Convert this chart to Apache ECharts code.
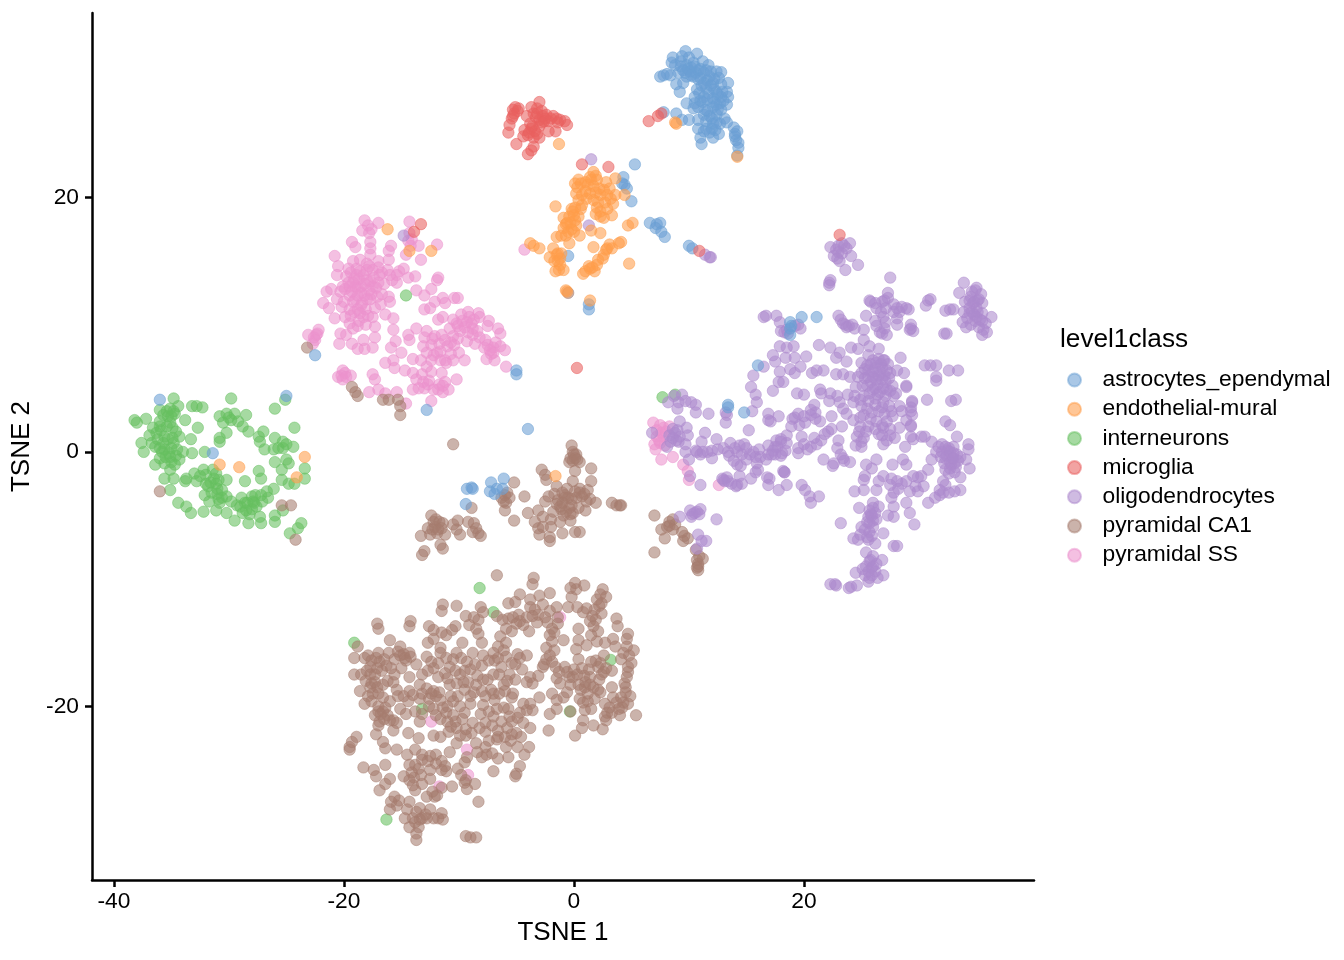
<!DOCTYPE html>
<html><head><meta charset="utf-8">
<style>html,body{margin:0;padding:0;background:#fff}#c{width:1344px;height:960px}</style>
<script src="https://cdn.jsdelivr.net/npm/echarts@6/dist/echarts.min.js"></script>
</head><body><div id="c"></div>
<script>
const classLabels=['astrocytes_ependymal','endothelial-mural','interneurons','microglia','oligodendrocytes','pyramidal CA1','pyramidal SS'];
const xTicks=[-40,-20,0,20];
const yTicks=[-20,0,20];
const astrocytes=[[9.7,31.5],[10.7,31.3],[8.6,31],[9.4,31.1],[8.5,30.6],[8.8,30.4],[9.8,30.4],[10.4,30.6],[11.2,30.7],[11.7,30.4],[9.5,30],[10.1,29.9],[10.8,30],[11.5,30],[12.4,29.9],[12.8,29.85],[7.5,29.5],[7.8,29.6],[8.1,29.7],[8.4,29.6],[9.1,29.8],[9.8,29.5],[10.4,29.5],[11,29.4],[11.8,29.5],[12.6,29.4],[13.4,29],[8.9,28.9],[9.5,29],[11.3,29],[12.1,29],[12.8,28.9],[9.2,28.3],[10.7,28.5],[11.5,28.6],[12.4,28.3],[13.3,28.3],[10.5,27.9],[11.3,27.9],[12.1,27.8],[12.8,27.9],[13.4,27.9],[9.8,27.4],[10.5,27.4],[11.2,27.5],[12.7,27.4],[13.3,27.3],[10.4,27],[12.1,27.1],[12.8,26.9],[8.9,26.6],[7.8,26.7],[11.3,26.5],[11.8,26.4],[12.4,26.5],[13.1,26.2],[9.4,26.1],[10,26.1],[10.8,26.1],[11.5,26],[12.1,25.8],[12.7,25.8],[10.8,25.4],[11.5,25.4],[12.3,25.3],[12.1,24.7],[11,24.7],[11.1,24.2],[13.9,25.5],[14.2,25.2],[14,24.8],[14.3,24.3],[14.3,23.9],[14.2,23.3],[12.6,25],[9.9,30.1],[10.2,30.2],[10.6,29.8],[11.6,29.2],[11.9,28.8],[12.2,28.5],[12.5,28.1],[11.6,26.8],[12,26.2],[12.2,27.5],[5.3,22.6],[4.3,21.6],[4.2,21.1],[4.6,20.7],[5,19.7],[4.4,21],[6.6,18],[7.2,17.9],[7.5,18],[7.1,17.6],[7.6,17.3],[7.9,16.9],[10,16.2],[10.3,16],[-0.5,15.4],[1.3,11.2],[1.3,11.6],[19.8,10.6],[21.1,10.6],[18.8,10.2],[18.8,9.7],[18.8,9.2],[18.9,9.9],[16,6.8],[13.4,3.7],[13.4,3.5],[14.8,3.1],[-36,4.1],[-25,4.4],[-31.4,-0.1],[-22.5,7.6],[-5,6.4],[-5,6.1],[-12.8,3.3],[-4,1.8],[-9.3,-2.9],[-8.9,-2.8],[-8.8,-2.9],[-9.4,-4.1],[-7.2,-2.4],[-6.1,-2.1],[-7.3,-3.1],[-6.7,-2.9],[-6.9,-3.3],[-6.2,-2.9],
[9.3,30.7],[10,31],[10.5,30.3],[11,30.1],[9.3,30.3],[9.7,29.8],[10.2,29.6],[10.8,29.3],[11.3,29.8],[11.9,29.9],[12.2,29.3],[11.1,28.8],[10.9,28.2],[11.7,28.2],[11,27.6],[11.6,27.7],[12.4,27.3],[13,27.6],[12.9,28.3],[10.8,27.1],[11.4,26.9],[12.5,26.9],[12,25.4],[11.8,25.1],[11.3,25.2],[12.4,25.9],[13.3,25.9],[14,25],[14.1,24.5]];
const endothelial=[[1.7,22],[1.4,21.6],[0.4,21.4],[0.1,21.1],[1,21.2],[2,21.4],[2.8,21.2],[3.6,21.5],[1.7,20.9],[3.1,20.7],[0.2,20.3],[1.4,20.3],[2.3,20.2],[3.6,20.2],[4.4,20.2],[0.4,19.8],[1.7,19.8],[2.7,19.6],[3.4,19.5],[-1.6,19.3],[-0.2,19.1],[0.7,19.4],[2.3,18.9],[0,18.6],[-0.9,18.4],[2.3,18.5],[3.3,18.6],[2.6,18.4],[-0.3,18],[0.2,17.8],[-0.9,17.6],[-0.5,17.3],[1.5,17.4],[2.3,17.2],[0.5,17],[-1.5,16.9],[-1.1,17],[4.7,17.8],[5.1,18],[-0.4,16.4],[-3.8,16.4],[-3.5,16.2],[-3,16],[1.7,16.1],[4.1,16.5],[3.9,16.4],[3.1,16.3],[2.8,15.9],[2.6,15.5],[-1.8,16],[-1.4,15.6],[-2.1,15.3],[-1.2,15.2],[2.1,15.1],[4.8,14.8],[2,14.7],[1.4,14.4],[1,14.2],[0.8,14],[1.8,14.2],[-1.6,14.2],[-0.9,14.3],[-1.2,14.7],[-0.7,12.7],[-0.6,12.6],[1.4,11.9],[2.6,20.6],[1.5,21.4],[1,20.5],[2,19.2],[-0.4,18.5],[-0.6,18],[0.4,18.5],[-1.4,15],[8.8,25.9],[8.9,25.8],[14.2,23.2],[-1.3,24.2],[-16.2,17.5],[-14.3,15.8],[-12.4,15.8],[-30.8,-1],[-29.1,-1.2],[-23.4,-0.4],[-24.1,-2],[-1.6,-1.9],
[0.6,21.1],[1.9,21.7],[1.2,21],[2.2,20.7],[0.3,20.8],[0.7,20.2],[1.1,19.9],[1.9,20.4],[2.9,20.2],[3.2,19.9],[0.6,19.1],[0.1,19.2],[-0.1,18.9],[2.1,19.6],[2.9,19.1],[1.9,18.7],[-0.7,17.9],[-0.2,17.5],[-0.7,17],[0,17.3],[0.1,18.2],[2.9,16],[3.3,16],[2.5,15.2],[1.6,14.5],[1.3,14.6],[-1.5,15.5],[-1.3,14.3],[-1.7,15],[-1.1,15.6]];
const interneurons=[[-34.8,4.2],[-38.2,2.5],[-38,2.3],[-37.2,2.6],[-36,3.3],[-35.1,3.4],[-34.4,3.6],[-34.7,3],[-35.3,2.8],[-33.8,2.5],[-36,2.4],[-35.1,2.3],[-36.6,1.9],[-35.9,1.7],[-34.6,1.6],[-32.7,1.9],[-36.9,1.3],[-34.3,1.2],[-33.3,1],[-37.6,0.7],[-36.7,0.7],[-35.7,0.7],[-34.8,0.7],[-37.4,0],[-35.6,0.2],[-33.2,-0.1],[-34,0],[-36,-0.5],[-35.1,-0.4],[-34.3,-0.6],[-36.4,-1],[-35.6,-0.9],[-35.1,-1.4],[-32.1,0],[-33.2,3.6],[-32.8,3.6],[-32.3,3.5],[-29.8,4.2],[-30.8,2.8],[-30.2,3],[-29.5,3],[-28.5,2.9],[-30.5,2.3],[-29.2,2.4],[-28.8,2],[-28.3,1.6],[-27,1.6],[-30.2,1.5],[-30.8,1.1],[-30.8,0.8],[-27.4,1.2],[-27.3,0.8],[-26,3.4],[-25.1,4.1],[-24.3,1.9],[-26,1.1],[-25.3,0.8],[-26.9,0.2],[-26.1,0.2],[-25.3,0.3],[-24.4,0.4],[-26,-0.8],[-25,-0.6],[-25.4,-1.4],[-23.4,-1.3],[-23.4,-2.1],[-27.4,-1.5],[-27.2,-2.1],[-25.4,-2.2],[-24.8,-2.5],[-24.3,-2.5],[-28.6,-2.3],[-35.6,-2.1],[-34.8,-2.1],[-35.1,-3],[-33.7,-2.1],[-33,-1.7],[-32.2,-1.4],[-32,-1.8],[-32.8,-2.3],[-33.8,-2.3],[-31.8,-2.7],[-31.1,-2.5],[-30.2,-2.2],[-32.1,-3.4],[-31,-3.3],[-30.2,-3.5],[-34.4,-4],[-33.7,-4.3],[-33.3,-4.8],[-32.2,-4.7],[-31.1,-4.6],[-30.2,-4.8],[-29.5,-5.4],[-31.7,-3.9],[-29.3,-4.2],[-28.6,-4],[-28,-3.5],[-27.2,-3.4],[-26.1,-2.9],[-26.6,-3.6],[-28.5,-4.6],[-27.6,-4.3],[-28.3,-5.6],[-27.2,-5.6],[-26,-5],[-26,-5.5],[-25.3,-4.6],[-23.7,-5.6],[-24,-6],[-24.7,-6.4],[-27.3,-5.1],[-29,-4.3],[-27.9,-3.9],[-30.8,-4],[-30.6,-3.6],[-31.1,-1.7],[-35.3,1],[-35,0.3],[-34.6,-0.3],[-35.8,0],[-36.2,1],[-36,2],[-35,2.8],[-34.8,3.2],[-36,0.3],[-35,-0.8],[-28,-4.5],[-28.4,-4],[-27.8,-4],[-31,-2.9],[-31.5,-3.2],[-30.6,-3],[-32.5,-1.9],[-14.6,12.3],[7.7,4.3],[8.8,4.5],[-19.1,-15],[-8.2,-10.7],[-7,-12.6],[3.2,-16.35],[-13.2,-20.2],[-0.35,-20.4],[-16.3,-28.9],
[-35.7,2.9],[-35.4,2],[-34.9,1.9],[-35.4,3.2],[-36.3,1.5],[-35.6,1.2],[-34.9,1.1],[-36.4,0.4],[-35.2,-0.1],[-34.5,0.2],[-35.5,-0.4],[-34.7,-1],[-30,2.7],[-29.8,2.5],[-25.7,0.3],[-25,0.6],[-31.3,-2.1],[-30.9,-2.2],[-31.6,-2.4],[-30.9,-3.7],[-29.8,-3.9],[-28.9,-3.6],[-28.2,-4.9],[-27.7,-3.4],[-27.1,-3.9],[-26.7,-3.1],[-28.8,-4.8],[-31.4,-1.4],[-32,-2.5],[-24.8,-0.9]];
const microglia=[[-5.1,27.1],[-5.3,26.9],[-4.8,27],[-5.4,26.2],[-5.6,25.7],[-5.7,25.1],[-3.7,27.1],[-3,27.5],[-3.2,27],[-2.8,26.8],[-2.4,26.5],[-1.8,26.4],[-1.2,26.1],[-0.6,25.7],[-0.8,26],[-4.1,26.4],[-3.8,25.8],[-3,26.1],[-2.2,26],[-4.3,25.3],[-3.7,25.4],[-3,25.6],[-1.6,25.2],[-2.2,25.2],[-4.4,24.8],[-3.5,24.7],[-3,24.7],[-5,24.2],[-3.5,24],[-3.7,23.7],[-4,23.4],[-2.5,26.2],[-3.5,26.6],[-3.4,25.2],[-3.9,25.1],[-2.7,26.4],[-1.5,26.2],[6.5,26],[7.3,26.4],[7.6,26.6],[0.7,22.6],[3,22.4],[10.9,15.8],[23.1,17.06],[-13.3,17.9],[-13.9,17.3],[0.26,6.6],
[-5.2,26.6],[-4.9,26.8],[-5.3,26.4],[-3.3,26.3],[-2.6,26],[-2,26.2],[-1.4,25.9],[-3.2,26.6],[-3.6,25.6],[-3.2,25],[-4,24.9],[-2.8,25.9]];
const oligodendrocytes=[[22.3,16.1],[24,16.4],[22.8,15.9],[23.3,15.6],[23.7,16],[22.6,15.4],[24.1,15.4],[23.1,15],[24.7,14.7],[23.6,14.3],[23.3,16.4],[23,15.7],[22.9,15.2],[22.2,13.3],[22.3,13.5],[22.2,13.1],[27.5,13.7],[33.9,13.3],[33.5,12.5],[34.9,12.7],[35,12.9],[34.5,12.2],[35.2,12],[34.7,11.7],[34,11.8],[35.5,11.7],[34.4,11.3],[35,11.3],[33.9,11],[34.8,10.8],[35.5,10.9],[34.2,10.5],[34.9,10.3],[35.8,10.1],[36.3,10.6],[33.8,10.2],[35.2,9.8],[35.6,9.6],[35.9,9.4],[35.5,9.2],[34.5,10],[34.1,9.8],[35.1,11],[34.6,11],[35.4,12.4],[32.7,11.2],[32.3,11.1],[33,11.2],[32.2,9.3],[32.4,9.3],[31,12],[30.6,11.5],[30.8,11.9],[27.3,12.5],[27.3,12.1],[27,11.9],[26.8,11.8],[26.2,11.7],[25.8,11.8],[25.7,11.9],[26.3,11.3],[27.8,11.6],[28.1,11.3],[28.5,11.4],[28.9,11.3],[29.1,11.2],[27.8,11],[28.3,11],[25.4,10.7],[26.2,10.3],[26.9,10.6],[27.1,10.2],[28.1,10.5],[28.1,10],[26.3,9.9],[27,9.7],[26.6,9.4],[26.8,9.3],[27.2,9.2],[29.3,10],[29.2,9.6],[29.5,9.5],[29.3,9.7],[27.1,11.3],[26.7,11],[23,10.7],[23.2,10.4],[23.4,10.1],[23.6,10],[23.9,9.9],[24.2,10],[24.4,9.7],[25.2,9.6],[23.7,9.8],[16.5,10.6],[16.7,10.7],[17.6,10.7],[17.9,10.2],[18.5,9.6],[18,9.5],[19.2,9.9],[19.5,10],[19.7,9.7],[18.3,9.4],[17.9,8.3],[19.1,8.3],[18.5,8.2],[17.3,7.6],[17.5,7.1],[18.4,7.4],[19.2,7.4],[20.2,7.5],[16.5,6.7],[15.6,6],[15.4,5.1],[15.8,4.5],[15.9,3.9],[15.5,3.2],[17.9,6.3],[18.8,6.5],[19.7,6.7],[19.2,6.2],[18.2,5.5],[17.8,5.5],[17.3,4.8],[20.7,6.2],[21.1,6.4],[21.7,6.4],[21.3,8.4],[22.3,8.2],[23.1,7.8],[22.8,7.4],[23.7,7.1],[22.8,6.1],[23.4,6.1],[24,5.9],[24.1,8.2],[24.7,8.1],[25.2,8.8],[25.7,8.3],[26.5,8.1],[25.6,7.6],[28.4,7.4],[26.9,7.2],[25,7],[25.5,6.8],[26,7.2],[26.5,7.3],[27,7.2],[27.3,6.9],[26.2,6.6],[26.8,6.6],[25.6,6.4],[25,6.2],[24.7,5.9],[25.3,5.8],[26,5.9],[26.5,6],[27,6],[27.5,6.2],[28.1,6.4],[28.7,6.2],[25.8,5.5],[26.4,5.3],[27.1,5.5],[27.7,5.2],[28.9,5.2],[24.5,5.1],[25.1,5.2],[26,4.9],[26.6,4.7],[27.2,4.9],[27.8,4.4],[28,4.6],[25.2,4.4],[24.4,4.4],[23.8,4.5],[24.9,4.1],[26.2,4.2],[26.9,3.9],[27.4,3.6],[28.3,3.6],[25.5,3.4],[26.5,3.2],[27,3],[28.5,3.2],[29.4,3.9],[29.3,3.5],[25.2,2.9],[25.8,2.6],[26.3,2.4],[27.7,2.8],[28.9,2.5],[29.4,2.9],[24.3,2.5],[24.9,2],[25.6,2],[26.9,1.9],[27.5,1.8],[28.3,1.9],[29.3,2.1],[29.3,1.2],[24.6,1.2],[25,0.8],[25.2,1.1],[26.8,1.3],[27.2,0.9],[27.9,1.1],[28.8,0.4],[25,0.4],[26.9,0.6],[24.5,0.5],[19.4,4.6],[20,4.5],[21.4,4.9],[21.5,4.6],[22.3,4.6],[22.9,4.4],[22.2,4],[23.1,3.9],[24.3,3.9],[20.9,3.7],[20.6,3.3],[21,3.1],[20.6,2.9],[19.5,3],[19,2.6],[18.9,2],[19.6,2.1],[20.1,2.3],[21.4,2.4],[22.4,2.8],[23.4,3.4],[23.7,3],[23.3,2],[21.8,1.4],[22.4,1.8],[22.1,1.6],[20.9,1.1],[21.5,0.9],[21.1,0.6],[19.8,1.2],[20,0.6],[19.5,0.3],[20.6,0.4],[18.5,1.3],[18,0.8],[17.7,0.4],[18.4,0.1],[17.5,-0.2],[18,-0.3],[19.5,-0.1],[20.3,0.2],[22.9,0.3],[23,0.9],[23.2,-0.2],[21.7,-0.6],[22.6,-0.9],[22.5,-1.1],[23.5,-0.7],[24,-0.8],[23.4,-0.5],[9.7,0],[10.6,0.1],[11,-0.2],[11.6,0],[12,0.1],[12.5,0.2],[13,0.3],[13.6,0.7],[13.5,-0.3],[13.9,-0.7],[14.2,0],[14.4,0.5],[14.8,0.6],[14.2,-1],[14.5,-1.1],[15,0.3],[15.3,-0.2],[15.8,-0.4],[15.9,-0.9],[16.1,0.2],[16.2,-0.4],[16.7,-0.6],[16.9,-0.2],[17.2,-0.2],[16.9,0.5],[17.5,0.4],[17.6,0.9],[18,1],[18.5,0.7],[18.1,-0.1],[16,-1.4],[15.8,-1.6],[16.8,-2],[17,-2.1],[18.2,-1.5],[18.3,-1.6],[14.6,-2.5],[14.4,-1.9],[13.3,-2],[13,-2.2],[13.7,-2.5],[14.2,-2.6],[12.9,-2.1],[6.8,1.5],[8.3,1.3],[8.8,1.5],[9.2,1.2],[9.1,0.8],[8.6,1.1],[8.1,0.4],[9.7,0.6],[9.8,1.9],[9.2,2.4],[9.9,1.3],[10,-0.6],[10.1,-1.9],[11,-2.6],[11.4,1.5],[11.1,0.8],[12.4,1],[10.7,0],[11.2,0],[12,-0.5],[15.2,1.7],[8.2,3.9],[8.7,4.4],[9.4,4.5],[9.1,3.9],[9.7,4],[10.2,3.9],[10.6,3.7],[10.6,3.1],[9,3.4],[11.7,3],[13.3,2.9],[13.2,3.1],[13.2,2.3],[16.9,3],[16.9,2.5],[17.1,2.4],[17.8,2.8],[31.1,0.8],[31.7,0.4],[31.5,0],[32.6,0.3],[33,0.4],[34.3,0.6],[34.3,0.2],[33.3,1.2],[33,-0.1],[33.6,-0.4],[32.3,-0.5],[32.7,-0.8],[33.1,-0.9],[34.4,-1.3],[34.1,-0.6],[32.3,-1.4],[32.7,-1.3],[33.6,-2],[32.1,-2.3],[32.3,-2.6],[33.6,-3],[33.1,-3.1],[32.6,-3.2],[31.8,-3.4],[31.4,-3.6],[30.8,-4],[31.1,-0.6],[30.8,-1.4],[30.2,-1.9],[29.9,-2],[29.5,-1.9],[28.9,-2.3],[28.5,-2.5],[28.1,-2.3],[27.6,-2.1],[26.9,-1.9],[26.5,-2.3],[26.3,-3],[25.3,-1.9],[25.2,-2.2],[25.4,-1],[26.3,-0.6],[25.9,-1.3],[27.7,-1],[28.6,-0.6],[28.9,-1],[24.4,-3.1],[25.2,-3],[27.8,-3.2],[27.6,-3.6],[29.7,-2.7],[30.4,-2.7],[29.2,-3.1],[29.9,-3.1],[32.3,2.4],[32.7,2.1],[32.8,4],[33.2,4.1],[30.7,4.1],[29.4,4],[29.3,3.2],[29.3,2],[29.5,1],[30.2,1.2],[30.5,1.2],[30.5,6.8],[31,6.8],[31.5,6.8],[32.6,6.4],[33.4,6.4],[31.5,5.9],[31.5,5.6],[28.9,5.1],[32,0],[32.4,-0.3],[32.9,-0.5],[33.3,-0.2],[32.5,0.1],[32.8,-1],[33.2,-1.2],[26,-4],[26.5,-4.3],[25.7,-4.6],[26.2,-4.8],[25.6,-5.1],[26.3,-5.3],[25.7,-5.6],[26,-5.9],[25.3,-6.1],[25.7,-6.3],[25,-5.9],[26.9,-6.4],[24.3,-6.8],[24.7,-6.9],[25.6,-6.9],[26.2,-7.2],[24.9,-6.5],[24.8,-4.4],[23.2,-5.6],[27.8,-4.3],[27.8,-5.1],[27.3,-5],[28.9,-4],[29.2,-4.8],[29.6,-5.7],[27.8,-7.4],[28.1,-7.4],[25.4,-7.9],[26,-8.2],[26.8,-8.5],[25.7,-8.6],[26.3,-8.8],[25.4,-9],[25.9,-9.1],[26.2,-9.4],[24.5,-9.5],[25.3,-9.7],[25.7,-9.9],[26.9,-9.7],[26.4,-9.9],[25.6,-10.2],[22.3,-10.4],[22.8,-10.5],[22.7,-10.4],[23.9,-10.7],[24.1,-10.6],[24.6,-10.5],[10.1,-4.6],[10.5,-4.8],[11,-4.5],[10.2,-5.1],[10.7,-4.7],[9.2,-5.1],[12.4,-5.3],[10.8,-6.5],[11.5,-7],[11.1,-7],[10.7,-7.6],[19.8,-2.6],[20.1,-3],[20.5,-3.5],[21.3,-3.5],[20.6,-4],[18.5,-2.6],[17.8,-3],[16.9,-2.6],[18.3,-1.6],[15.4,-2.1],[14.1,-2.7],[13.1,-2.3],[13.4,-2.3],[1.5,23],[1.3,17.8],[11.4,15.5],[11.8,15.3],[11.9,15.3],[-14.8,17],
[25.8,6.9],[26.3,7],[26.7,6.9],[25.3,6.5],[26,6.3],[26.6,6.3],[27.2,6.4],[25.6,5.9],[26.3,5.7],[26.8,5.7],[27.4,5.8],[25.5,5.2],[26.2,5],[26.9,5],[27.5,4.8],[25.7,4.6],[26.4,4.5],[27.1,4.4],[25.6,4],[26.2,3.7],[26.8,3.5],[27.6,3.2],[25,3.6],[25.9,3.1],[27.2,2.4],[26.2,1.8],[26.5,1.4],[25.4,1.6],[27.5,1.3],[26.8,2.1],[24.8,1.6],[24.9,2.7],[32.3,0.4],[31.9,-0.4],[32.7,0],[33,-0.5],[33.4,-0.7],[32.2,-0.9],[32.6,-1.7],[33.1,-1.6],[32,0.6],[34.8,11.8],[35.1,11.9],[34.6,12.6],[34.4,11.9],[35,10.6],[35.3,10.4],[34.4,10.9],[35.5,10.3],[25.9,-5],[26,-4.4],[25.9,-6.6],[25.5,-6.7],[25.8,-4.9],[26,-5.4],[25.5,-5.5],[25.6,-9.4],[26,-9],[25.8,-8.5],[25.9,-9.7],[25.1,-9.2],[13.4,0],[14,0.3],[14.6,-0.2],[15,-0.6],[15.6,0],[17.3,0.1],[19.2,2.7],[20,2.8],[21,2.6],[8.9,0.9],[8.4,0.8],[9,1.7],[8.6,1.8],[10.3,-4.9],[10.9,-4.9],[28.2,-2.9],[27.5,-2.6],[31.8,-3],[32.1,-3.2],[23,16.2],[23.5,16.2],[18.6,9.3]];
const pyramidalCA1=[[-6.7,-9.7],[-3.5,-9.9],[-3.6,-10.4],[0.1,-10.3],[0.9,-10.5],[-0.3,-10.7],[0.2,-10.8],[2.5,-10.8],[2.3,-11.2],[2,-11.6],[2.8,-11.4],[-2.1,-11.1],[-4.7,-11.2],[-3,-11.3],[-3.8,-11.6],[-11.4,-12],[-10.2,-12.1],[-8.1,-12.2],[-5.7,-11.9],[-5.1,-11.8],[-3.8,-12.2],[-2.7,-12],[-1.5,-12.2],[-0.5,-12.2],[1.1,-12.3],[-11.5,-12.5],[-9.4,-12.9],[-8.3,-13.2],[-6.7,-12.9],[-4.8,-12.8],[-2.1,-12.5],[2.4,-12.7],[3.7,-13.1],[1.8,-12.4],[-17.1,-13.5],[-17,-13.9],[-14.2,-13.3],[-14.3,-13.7],[-12.6,-13.7],[-12.2,-14],[-10.3,-13.7],[-10.6,-14],[-9.1,-13.6],[-5.9,-13.9],[-5,-13.5],[-3.2,-13.4],[-3.9,-14.1],[-1.4,-13.5],[0.4,-13.9],[1.7,-13.7],[3.8,-13.7],[4.7,-14.3],[-6.2,-13.2],[-5.4,-14.1],[-16,-14.8],[-11.5,-14.2],[-11.1,-14.4],[-12.2,-14.7],[-12.7,-15],[-9.7,-15],[-8,-15],[-6.4,-14.5],[-6.6,-15.3],[-2.1,-14.4],[-0.9,-14.8],[0.4,-14.8],[1.5,-14.4],[3.4,-14.7],[4.6,-14.7],[2.7,-15],[-18.8,-15.3],[-15.1,-15.3],[-11.6,-15.4],[-2.4,-15.4],[0.2,-15.5],[1.1,-15.2],[3.6,-15.3],[-17.9,-16],[-17,-15.8],[-16.1,-15.8],[-15.1,-16],[-14.3,-15.8],[-11.6,-15.8],[-10.2,-15.8],[-8.8,-15.8],[-7.9,-16],[-7,-15.8],[-5.9,-16.1],[-4.7,-16.2],[-4.1,-16],[-2.4,-16.3],[0.4,-16.3],[2.6,-16],[4.3,-15.8],[5.2,-15.6],[4.1,-16.3],[-19.1,-16.2],[-12.8,-16.1],[-9.8,-16.2],[-14.6,-16.4],[-16.9,-16.5],[5,-16.6],[-17.7,-16.9],[-15.9,-17],[-13.7,-16.7],[-12.2,-17],[-10.8,-16.9],[-9,-17.1],[-8,-16.8],[-6.3,-16.9],[-4.5,-17.1],[-2.7,-16.9],[-1.9,-16.5],[-0.8,-16.9],[0.7,-17],[2.1,-16.9],[2.8,-17],[4.7,-17.3],[-19.1,-17.5],[-18.5,-17.5],[-17.3,-17.5],[-14.3,-17.7],[-13.2,-17.5],[-11.2,-17.4],[-9.9,-17.5],[-7,-17.5],[-5.6,-17.5],[-3.8,-17.7],[-3.1,-17.6],[-1.5,-17.8],[-0.1,-17.7],[1.4,-17.7],[2.4,-17.5],[4.6,-17.7],[-17.3,-18.1],[-16.6,-18.3],[-13.4,-18.3],[-12.2,-18.8],[-10.8,-18.3],[-9.6,-18.1],[-7.9,-17.9],[-6.1,-18.3],[-5.1,-17.9],[-1.2,-18.2],[-0.3,-18.3],[0.95,-18.5],[2.1,-18.7],[3.3,-18.5],[4.4,-18.2],[-18.6,-18.8],[-15.4,-18.7],[-14.3,-18.8],[-8,-18.8],[-7.2,-18.7],[-9.5,-18.7],[-1.9,-19],[-17.9,-19.2],[-18.2,-19.8],[-16,-19.6],[-14.8,-19.2],[-13.4,-19.4],[-11.6,-19.5],[-10.5,-19.6],[-9,-19.2],[-9,-19.8],[-7.7,-19.2],[-7.9,-19.9],[-6.9,-19.5],[-5.3,-19],[-5.4,-19.3],[-3.8,-19.8],[-3,-19.3],[-1.5,-19.5],[0.5,-19.4],[1.2,-19.6],[2.3,-18.9],[3.4,-19.3],[4.9,-19.2],[4.7,-19.8],[2.7,-19.8],[-17.3,-20.7],[-16.6,-20.4],[-15.1,-20.2],[-13.8,-20.4],[-11.1,-20.5],[-9.5,-20.5],[-7,-20.8],[-5.7,-20.2],[-4.7,-20.5],[-2.1,-20.6],[-1.5,-20.2],[0.95,-20.3],[1.5,-20.2],[2.7,-20.8],[4,-20.7],[5.4,-20.7],[-17,-20],[-16.9,-21.2],[-15.7,-21.1],[-13.4,-21.2],[-10.3,-21.2],[-8.8,-21.3],[-7.7,-21.3],[-0.3,-20.4],[-17,-21.5],[-15.7,-21.9],[-14.4,-22.1],[-13.5,-22.5],[-12.2,-22.3],[-11.6,-22.4],[-10.2,-21.7],[-8.9,-22.1],[-7.7,-22],[-6,-22.4],[-5,-22.1],[-3.8,-21.7],[-2.2,-21.9],[0.8,-21.1],[1.7,-21.5],[0.7,-21.7],[0.1,-22.3],[2.5,-21.8],[2.8,-21.1],[-18.9,-22.4],[-17.2,-22.2],[-19.5,-23.2],[-19.5,-23.4],[-19.3,-22.8],[-16.6,-22.8],[-16.4,-23.3],[-15.4,-23.4],[-13.8,-23.4],[-10.2,-22.9],[-10.8,-23.6],[-8.5,-22.9],[-7.7,-23.2],[-6.7,-22.6],[-5.9,-23.2],[-3.9,-23.2],[-14.5,-23.8],[-9.3,-24],[-12,-23.8],[-4.3,-23.8],[-7.6,-23.8],[-5.7,-24],[-16.4,-24.6],[-18.3,-24.8],[-17.4,-25],[-14.3,-24.6],[-13.2,-24.2],[-12.5,-25],[-12,-24.5],[-11.1,-25.1],[-10.1,-24.9],[-7,-25.1],[-6.6,-24.1],[-4.7,-24.7],[-5,-25.3],[-9.5,-24.4],[-13.5,-24.9],[-17.2,-25.5],[-16,-25.7],[-14.3,-25.8],[-13.2,-26.1],[-16.9,-26.6],[-16.4,-26.1],[-14.8,-25.5],[-12.5,-25.7],[-11.5,-26.4],[-10.6,-26.3],[-9.4,-25.8],[-8.6,-26.1],[-9.3,-26.5],[-13.8,-26.6],[-5.1,-25.5],[-15.6,-27.1],[-15.4,-27.8],[-16,-28.1],[-14.3,-27.5],[-12.8,-27.1],[-12.1,-27.1],[-8.3,-27.5],[-14.5,-28.1],[-13.4,-28],[-12.5,-28.1],[-11.5,-28.4],[-14.7,-28.8],[-14,-28.8],[-13.2,-28.8],[-12.2,-28.8],[-11.4,-28.9],[-14.3,-29.5],[-13.5,-29.5],[-13.7,-30],[-13.7,-30.5],[-9.4,-30.2],[-9,-30.3],[-8.5,-30.3],[-10.5,0.6],[-0.2,0.5],[-0.1,0],[0.2,-0.2],[-0.3,-0.5],[0.5,-0.8],[0.1,-0.5],[-0.4,-0.8],[1.5,-1.3],[0.1,-1.5],[-2.8,-1.4],[-2.5,-1.8],[-2.4,-2.2],[1.5,-2.3],[-0.1,-2.3],[-1.5,-2.7],[-0.6,-2.9],[0.5,-2.9],[1.2,-3],[-1.7,-3.3],[-2.2,-3.5],[-2.5,-3.9],[-1.4,-3.8],[-0.8,-3.6],[0.7,-3.5],[1.4,-3.7],[1.1,-3.9],[1.9,-4],[3.3,-4],[3.7,-4.2],[4,-4.2],[-1.2,-4.3],[-0.4,-4.4],[0.4,-4.4],[1,-4.6],[-3.1,-4.6],[-4,-4.8],[-1.8,-4.7],[-0.9,-5],[-0.1,-4.8],[-2.7,-5.1],[-2,-5.3],[-3.4,-5.5],[-1.2,-5.5],[-0.3,-5.4],[-3.1,-6],[-2.7,-5.9],[-2,-5.9],[-1,-6.4],[0.1,-6.3],[0.5,-6.3],[-3,-6.5],[-2.1,-6.7],[-2.1,-7],[-5.2,-2.4],[-4.3,-3.5],[-6,-3.4],[-5.6,-3.6],[-6.3,-3.6],[-5.9,-4],[-6,-4.6],[-5.2,-5.4],[-8.9,-4.4],[-12.4,-5],[-11.7,-5.5],[-11.4,-5.6],[-12.1,-5.9],[-12.7,-6],[-11.8,-6.1],[-13.3,-6.6],[-12.5,-6.5],[-11.2,-6.5],[-10.5,-5.7],[-10.1,-5.4],[-9.2,-5.5],[-10.2,-6.1],[-9.9,-6.5],[-8.7,-5.6],[-8.5,-6],[-8.8,-6.3],[-8.1,-6.6],[-8.3,-6.4],[-11.6,-7.3],[-11.4,-7.6],[-13,-7.8],[-13.2,-8.1],[7,-5],[7,-7.9],[8.3,-5.5],[8.1,-5.9],[8.8,-5.7],[7.6,-6.1],[7.9,-6.8],[9.4,-6.3],[9.5,-7],[9.9,-6.8],[10.6,-7.7],[10.7,-8.5],[11.2,-8.4],[10.8,-9],[10.8,-9.3],[4.1,-4.2],[-23.2,8.2],[-19.3,5.1],[-19,4.7],[-18.8,4.4],[-16.6,4.1],[-16.1,4.1],[-15.3,4.1],[-15.1,3.6],[-15.1,2.9],[-36,-3.1],[-25.4,-4.2],[-24.6,-4.2],[-24.2,-6.9],[-0.5,12.5],
[-18.2,-16.2],[-17.6,-16.4],[-17.2,-16.2],[-16.5,-16.3],[-15.6,-16.3],[-15.3,-15.7],[-14.8,-15.9],[-14.7,-16.2],[-14.2,-16.1],[-18,-17.2],[-17.7,-17.5],[-17.1,-17],[-16.7,-17.2],[-16.3,-16.8],[-15.6,-17.5],[-15,-17],[-18.1,-18],[-17.6,-18.2],[-17.7,-18.5],[-17.1,-18.5],[-16.2,-18],[-15.7,-18.1],[-17.5,-19],[-17,-19],[-17.6,-19.6],[-16.6,-19.3],[-15.3,-19.2],[-14.4,-19.6],[-14,-19.1],[-13.2,-19],[-12.8,-18.6],[-12.4,-19],[-12.6,-19.4],[-12,-19.2],[-11.7,-18.9],[-17,-20.4],[-16.4,-20.1],[-16.8,-20.6],[-16.2,-20.7],[-16,-21.1],[-15.4,-21.3],[-16.5,-21],[-14.6,-20.6],[-13.2,-20.6],[-12.6,-20],[-12.2,-20.2],[-12,-20.7],[-11.4,-20.1],[-11.6,-21],[-11,-21.2],[-10.7,-21.6],[-10.5,-20.7],[-10.9,-22],[-9.9,-22.3],[-9.4,-21.8],[-9.7,-21],[-8.2,-21.7],[-8.1,-20.6],[-7.4,-20.4],[-7.1,-21.5],[-6.6,-21.9],[-6.3,-21.2],[-5.8,-21.7],[-5.4,-21.2],[-5.6,-20.8],[-4.9,-20.9],[-4.4,-21.3],[-6.6,-22.4],[-5.5,-22.7],[-7.4,-22.7],[-7.1,-23.7],[-8,-24],[-8.4,-23.6],[-13.2,-23.8],[-12.7,-24.3],[-12.5,-23.9],[-11.5,-24.3],[-11.2,-24.7],[-11.5,-25],[-13.3,-25.4],[-13.8,-24.6],[-14.1,-25.2],[-14,-26.2],[-13.9,-25.6],[-15.2,-27.4],[-15.9,-27.5],[-13.7,-28.3],[-13.4,-28.9],[-13.8,-29.1],[-12.8,-28.8],[-12.9,-28.5],[-11.8,-28.8],[-11.9,-27],[-12.3,-26.7],[-9.5,-26],[-9.8,-25.4],[-9.4,-22.3],[-4.9,-23.2],[-4.6,-22.4],[-5.4,-22.2],[-3.6,-18.2],[-4.1,-18.1],[-6.5,-19],[-6,-18.8],[-5.8,-18],[-6.5,-17.5],[-7.5,-17.9],[-8.4,-17.6],[-8.5,-18.3],[-8.6,-16.7],[-9.3,-16.5],[-9.5,-17.2],[-10.3,-17.2],[-10.5,-16.3],[-11.1,-16.2],[-11.8,-16.6],[-12.4,-16.5],[-12.7,-17.2],[-11.8,-17.7],[-11,-17.8],[-10.2,-18.2],[-9.2,-18.1],[-8.7,-18.9],[-7,-19],[-6.7,-20.2],[-6.1,-20.1],[-4.1,-20.3],[-4.4,-19.8],[-3.6,-20.3],[-10.7,-19.2],[-10.1,-19.2],[-11,-20],[-9.9,-20],[-7.4,-16.4],[-6.9,-16.4],[-6.6,-16.2],[-5.4,-16.6],[-5.1,-16.7],[-4.9,-15.9],[-6.1,-15.6],[-5.9,-15],[-8.3,-14.3],[-8.5,-13.9],[-8.7,-13],[-7.9,-12.6],[-5.7,-13.1],[-5.3,-13],[-4.7,-13.3],[-4.4,-13.6],[-4.1,-13],[-3.6,-12.9],[-3.4,-12.4],[-3.1,-12.8],[-2.5,-13],[-2.3,-13.4],[-1.9,-13.9],[-1.7,-14.2],[-1.4,-13],[-1.9,-14.9],[-1.7,-15.6],[-2.1,-16],[-2.6,-16.7],[-1.6,-16.9],[-1.3,-17.3],[-0.6,-17.3],[-0.4,-17.7],[0,-17.1],[0.3,-17.5],[0.9,-17.6],[1,-18.1],[0.4,-18.3],[0.6,-18.7],[1.4,-18.3],[1.2,-19],[1.7,-18.5],[0.8,-19.7],[1.8,-19.4],[-0.6,-18.9],[-0.9,-19.3],[2.6,-17.3],[2.3,-16.6],[1.9,-16.4],[1.5,-16.5],[1.3,-17.1],[2.2,-17.9],[3.3,-17.2],[1.4,-13.3],[1.6,-12.9],[1.9,-13.2],[2,-14.9],[2.1,-14.1],[2.4,-11.9],[2.2,-12.1],[0.8,-12.6],[0.3,-12.2],[-0.2,-11.4],[4.6,-15.3],[4.8,-16],[4.7,-16.9],[4.5,-18.5],[4.5,-18.9],[4.1,-19.3],[4.3,-19.7],[4.2,-20.1],[3.9,-20.2],[3.7,-19.7],[3.1,-20.1],[3.3,-20.5],[2.9,-20.5],
[-0.8,-3.4],[-0.5,-3.6],[-0.2,-3.7],[0.2,-3.6],[0.5,-3.2],[0.9,-3.3],[-1.1,-4.5],[-0.7,-4.7],[-0.3,-4.9],[-1.5,-4.1],[-1,-4],[-0.2,-4.2],[0.1,-3.1],[-1,-3.2],[-12.2,-5.5],[-12,-5.3],[-11.9,-6.4],[-11.5,-6],[-12.3,-6.1],[-6.1,-3.9],[-5.8,-3.2],[0,-0.2],[-0.1,-0.7],[0.3,-0.6],[8.6,-5.3],[8.3,-5.8],[8.6,-6.1],[9.6,-6.6],[10.8,-8.8],[10.7,-9.1],[10.9,-8.2]];
const pyramidalSS=[[-18.2,18.2],[-17,18],[-17.9,17.8],[-17.6,17.5],[-14.3,18.1],[-14.1,16.7],[-14.3,17.2],[-11.9,16.3],[-13.5,16.2],[-14.6,15.5],[-13.3,15.1],[-19.3,16.5],[-19,16.1],[-17.7,16.5],[-17.7,16],[-15.9,16.2],[-16.1,15.8],[-20.8,15.4],[-17.7,15.5],[-18.6,15.1],[-19.2,15],[-18,14.8],[-17,15],[-16.1,15.1],[-20.5,14.6],[-19.6,14.4],[-18.9,14.4],[-17.5,14.3],[-14.8,14.4],[-20.6,13.9],[-19.8,13.8],[-18.3,13.9],[-16.9,13.9],[-16,13.9],[-15.4,13.9],[-14.4,13.7],[-13.8,13.8],[-11.8,13.7],[-11.9,13.5],[-19.2,13.3],[-17.7,13.4],[-15.4,13.3],[-19.9,12.8],[-18.8,12.9],[-17.2,12.9],[-21.5,12.6],[-21.1,12.8],[-19.5,12.3],[-18.2,12.3],[-13.7,12.7],[-12.4,12.8],[-13,12.3],[-16.1,12.2],[-16,11.8],[-21.8,11.7],[-20.6,12],[-19.2,11.8],[-17.7,12],[-21.3,11.3],[-20.2,11.4],[-18.8,11.2],[-17.3,11.3],[-12.1,11.8],[-11.4,12.1],[-10.4,12.1],[-10.1,12.1],[-11.2,11.7],[-12.5,11.3],[-13,11.2],[-20.8,10.5],[-19.9,10.6],[-18.3,10.6],[-16.4,10.8],[-15.7,10.5],[-19.5,10.1],[-18.8,9.9],[-17.3,9.85],[-15.7,9.6],[-20.3,9.3],[-19.8,9.2],[-17.3,9],[-14.4,9.2],[-14.3,8.8],[-20.4,8.5],[-19.3,8.5],[-18.3,8.8],[-18.8,8.1],[-18.2,8.1],[-17.5,8.2],[-15.5,8.7],[-15.9,8.2],[-15,7.8],[-13.7,9.7],[-12.8,9.5],[-11.8,10.4],[-11.4,10.6],[-10.5,10.4],[-9.8,10.8],[-9.2,11],[-8.3,10.9],[-8.2,10.6],[-7.4,10.3],[-7.5,9.9],[-6.6,9.7],[-6.4,9.3],[-10.2,10.1],[-9.3,10.2],[-8.8,9.7],[-10.8,9.7],[-9.9,9.5],[-12.1,9.1],[-11.5,9.2],[-10.5,9.1],[-8.8,9.2],[-8.2,9],[-7.7,8.8],[-9.3,8.7],[-7.5,8.4],[-7,8.2],[-6.4,8.3],[-6,8],[-13.1,8.3],[-12.4,8.4],[-11.7,8.5],[-11,8.3],[-12.8,7.8],[-11.9,7.8],[-10,7.8],[-7.6,7.3],[-6.9,7.2],[-7.2,7.7],[-14,7.3],[-13.3,7.2],[-11.2,7.2],[-9.5,7.2],[-11.1,7],[-16.4,7],[-15.7,7.2],[-15.6,6.6],[-12.8,6.7],[-14.7,6.4],[-12.4,6.3],[-5.9,6.7],[-14,6.2],[-13.7,5.7],[-11.5,6.2],[-10.2,5.7],[-13.1,5.5],[-12.7,5.3],[-13.5,5],[-14,4.9],[-11.7,5.3],[-11.2,5.5],[-10.9,4.9],[-11.8,4.9],[-20.1,6.4],[-19.9,6.2],[-20.5,5.9],[-19.4,6],[-20.1,5.7],[-17.5,6.1],[-17.3,5.7],[-17.8,4.7],[-17,4.9],[-16.4,4.6],[-15.4,4.7],[-14.6,3.8],[-12.4,4],[-23.1,9.2],[-22.2,9.6],[-22.4,9.2],[-22.5,8.8],[-22.7,8.5],[-18.5,13],[-18,13.5],[-17.5,13],[-19,13],[-18.5,12.5],[-18,12],[-19,12],[-19.5,13],[-18,14.3],[-17,14.5],[-18.7,13.6],[-17.8,12.7],[-18.4,11.7],[-4.3,15.9],[6.9,2.3],[7.8,1.9],[8.3,2],[7.2,1.2],[7.6,1.5],[7,0.6],[7.5,0.7],[7.8,1.2],[7.1,0.2],[7.6,-0.6],[8.6,-0.4],[9.5,-1],[9.9,-1.5],[10,-2.2],[12.6,-2.6],[-12.4,-21.2],[-1.2,-13],[-9.3,-23.4],[-9.2,-25.4],[-11.7,-26.3],
[-19.4,14.1],[-18.9,13.9],[-18.6,14.2],[-17.8,14.6],[-17.4,13.7],[-18.2,13.2],[-19.1,13.6],[-19.6,13.3],[-19.3,12.6],[-18.8,12.3],[-17.6,12.4],[-18.5,11.5],[-19.5,11.2],[-18.1,11.2],[-19.1,11],[-18.6,10.9],[-17.9,10.7],[-19.4,10.7],[-18.7,10.3],[-18.1,10],[-19.2,9.7],[-17.5,10.6],[-16.8,11.6],[-16.7,12.4],[-16.5,13.2],[-16.2,14.3],[-16.7,14.1],[-15.2,14.2],[-15.8,13.5],[-17.1,12.2],[-17,13.3],[-20.1,13],[-20.3,12.6],[-20,11.8],[-8.7,10.4],[-9.1,10.6],[-9.7,10.3],[-10.1,9.9],[-9.5,9.8],[-9.2,9.4],[-10.1,8.9],[-10.7,8.6],[-11.2,8.8],[-10.4,8.4],[-11.6,7.9],[-12.2,7.6],[-12.3,8.9],[-13,9],[-10.7,7.7],[-10.5,7.2],[-11.6,7.2],[-12.4,7.2],[-8.6,8.5],[-8.4,9.5],[-7,7.8],[-6.8,8.6],[-7.3,8],[-7.8,8.2],[-8.9,10.1],[-12.6,5.6],[-13,5],[-12.2,4.9],[-11.4,4.7],[-11.4,5.2],[-13.2,6.1],[-22.6,9],[-22.3,9.3],[7.4,0.9],[7.9,0.5],[7.2,1.7],[8,1.6],[7.5,2.1],[-18.4,17.4],[-17.8,17.2],[-14.2,16.2],[-14.4,16.6],[-20.2,6],[-19.8,5.9]];

const RGB={a:'106,159,212',e:'255,157,74',i:'101,191,95',m:'233,96,95',o:'173,137,205',c:'166,124,110',s:'236,146,205'};
const mk=(name,data,rgb)=>({name,type:'scatter',data,symbolSize:11.4,symbol:'circle',animation:false,silent:true,
  itemStyle:{color:`rgba(${rgb},0.58)`,borderColor:`rgba(${rgb},0.5)`,borderWidth:1,opacity:1}});
const chart=echarts.init(document.getElementById('c'),null,{renderer:'canvas'});
const font='"Liberation Sans",Arial,sans-serif';
chart.setOption({
  animation:false,backgroundColor:'#fff',textStyle:{fontFamily:font,color:'#000'},
  grid:{left:92,right:310,top:13,bottom:80,containLabel:false},
  title:{text:'level1class',left:1060,top:327,textStyle:{fontFamily:font,fontSize:26.2,fontWeight:'normal',color:'#000'},padding:0},
  legend:{data:classLabels,orient:'vertical',left:1067,top:367,icon:'circle',itemWidth:46,itemHeight:13,itemGap:3.2,padding:0,
    selectedMode:false,textStyle:{fontFamily:font,fontSize:22.8,color:'#000',height:26,lineHeight:26}},
  xAxis:{type:'value',min:-41.9,max:40,name:'TSNE 1',nameLocation:'middle',nameGap:40,
    nameTextStyle:{fontFamily:font,fontSize:26,color:'#000'},splitLine:{show:false},
    axisLine:{onZero:false,lineStyle:{color:'#000',width:2.5}},axisTick:{length:7,customValues:xTicks,lineStyle:{color:'#000',width:2.5}},
    axisLabel:{customValues:xTicks,fontFamily:font,fontSize:22.8,color:'#000',margin:10,formatter:v=>String(v)}},
  yAxis:{type:'value',min:-33.65,max:34.5,name:'TSNE 2',nameLocation:'middle',nameGap:52,nameRotate:90,
    nameTextStyle:{fontFamily:font,fontSize:26,color:'#000'},splitLine:{show:false},
    axisLine:{onZero:false,lineStyle:{color:'#000',width:2.5}},axisTick:{length:7,customValues:yTicks,lineStyle:{color:'#000',width:2.5}},
    axisLabel:{customValues:yTicks,fontFamily:font,fontSize:22.8,color:'#000',margin:13,formatter:v=>String(v)}},
  series:[mk(classLabels[6],pyramidalSS,RGB.s),mk(classLabels[2],interneurons,RGB.i),mk(classLabels[5],pyramidalCA1,RGB.c),
    mk(classLabels[4],oligodendrocytes,RGB.o),mk(classLabels[0],astrocytes,RGB.a),mk(classLabels[1],endothelial,RGB.e),mk(classLabels[3],microglia,RGB.m)]
});
</script></body></html>
